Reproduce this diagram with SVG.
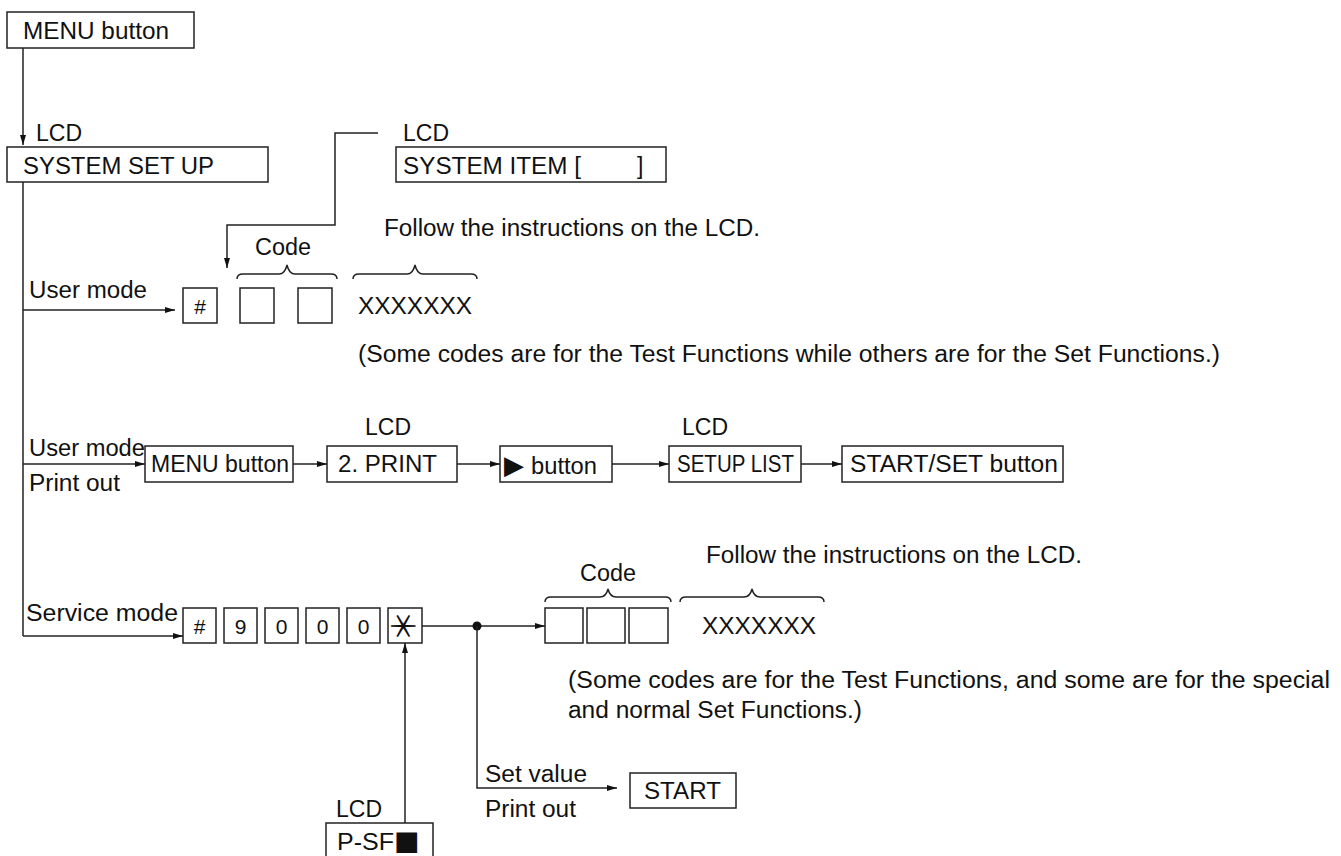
<svg xmlns="http://www.w3.org/2000/svg" width="1341" height="856" viewBox="0 0 1341 856">
<style>
text{font-family:"Liberation Sans",Arial,sans-serif;font-size:23px;fill:#111}
.box{fill:#fff;stroke:#222;stroke-width:1.5}
.ln{fill:none;stroke:#222;stroke-width:1.5}
.k{font-size:21px;text-anchor:middle;dominant-baseline:central}
</style>
<defs>
<marker id="arr" viewBox="0 0 10 6" refX="10" refY="3" markerWidth="10" markerHeight="6" orient="auto" markerUnits="userSpaceOnUse"><path d="M0,0 L10,3 L0,6 z" fill="#111"/></marker>
</defs>
<rect width="1341" height="856" fill="#fff"/>

<g id="connectors">
<path class="ln" d="M23,48 V145" marker-end="url(#arr)"/>
<path class="ln" d="M23,182 V636"/>
<path class="ln" d="M378,133 H335 V225 H227 V268" marker-end="url(#arr)"/>
<path class="ln" d="M23,310 H175" marker-end="url(#arr)"/>
<path class="ln" d="M23,464 H145" marker-end="url(#arr)"/>
<path class="ln" d="M293,464 H327" marker-end="url(#arr)"/>
<path class="ln" d="M457,464 H500" marker-end="url(#arr)"/>
<path class="ln" d="M612,464 H669" marker-end="url(#arr)"/>
<path class="ln" d="M801,464 H842" marker-end="url(#arr)"/>
<path class="ln" d="M23,636 H183" marker-end="url(#arr)"/>
<path class="ln" d="M422,626 H545" marker-end="url(#arr)"/>
<circle cx="477" cy="626" r="4.5" fill="#111"/>
<path class="ln" d="M477,626 V788 H617" marker-end="url(#arr)"/>
<path class="ln" d="M405,823 V643" marker-end="url(#arr)"/>
<path class="ln" d="M237,279 Q237,274 243,274 L279,274 Q285,274 287,265 Q289,274 295,274 L331,274 Q337,274 337,279"/>
<path class="ln" d="M353,279 Q353,274 359,274 L407,274 Q413,274 415,265 Q417,274 423,274 L471,274 Q477,274 477,279"/>
<path class="ln" d="M545,602 Q545,597 551,597 L600,597 Q606,597 608,589 Q610,597 616,597 L665,597 Q671,597 671,602"/>
<path class="ln" d="M680,602 Q680,597 686,597 L744,597 Q750,597 752,589 Q754,597 760,597 L818,597 Q824,597 824,602"/>
</g>

<g id="menu-button">
<rect class="box" x="7" y="12" width="187" height="36"/>
<text x="23" y="39" textLength="146" lengthAdjust="spacingAndGlyphs">MENU button</text>
</g>
<g id="lcd-label-1"><text x="36" y="141" textLength="46" lengthAdjust="spacingAndGlyphs">LCD</text></g>
<g id="system-set-up">
<rect class="box" x="7" y="147" width="261" height="35"/>
<text x="23" y="174" textLength="191" lengthAdjust="spacingAndGlyphs">SYSTEM SET UP</text>
</g>
<g id="lcd-label-2"><text x="403" y="141" textLength="46" lengthAdjust="spacingAndGlyphs">LCD</text></g>
<g id="system-item">
<rect class="box" x="396" y="147" width="270" height="35"/>
<text x="403" y="174"><tspan textLength="178" lengthAdjust="spacingAndGlyphs">SYSTEM ITEM [</tspan><tspan x="637">]</tspan></text>
</g>
<g id="follow-1"><text x="384" y="236" textLength="376" lengthAdjust="spacingAndGlyphs">Follow the instructions on the LCD.</text></g>
<g id="code-1"><text x="255" y="255" textLength="56" lengthAdjust="spacingAndGlyphs">Code</text></g>
<g id="user-mode-1"><text x="29" y="298" textLength="118" lengthAdjust="spacingAndGlyphs">User mode</text></g>
<g id="row1-keys">
<rect class="box" x="183" y="288" width="34" height="35"/>
<text class="k" x="200" y="306">#</text>
<rect class="box" x="240" y="288" width="34" height="35"/>
<rect class="box" x="298" y="288" width="34" height="35"/>
</g>
<g id="xxx-1"><text x="358" y="314" textLength="114" lengthAdjust="spacingAndGlyphs">XXXXXXX</text></g>
<g id="note-1"><text x="358" y="362" textLength="862" lengthAdjust="spacingAndGlyphs">(Some codes are for the Test Functions while others are for the Set Functions.)</text></g>

<g id="lcd-label-3"><text x="365" y="435" textLength="46" lengthAdjust="spacingAndGlyphs">LCD</text></g>
<g id="lcd-label-4"><text x="682" y="435" textLength="46" lengthAdjust="spacingAndGlyphs">LCD</text></g>
<g id="user-mode-2"><text x="29" y="456" textLength="116" lengthAdjust="spacingAndGlyphs">User mode</text><text x="29" y="491" textLength="91" lengthAdjust="spacingAndGlyphs">Print out</text></g>
<g id="menu-button-2">
<rect class="box" x="145" y="446" width="148" height="36"/>
<text x="151" y="472" textLength="138" lengthAdjust="spacingAndGlyphs">MENU button</text>
</g>
<g id="print">
<rect class="box" x="327" y="446" width="130" height="36"/>
<text x="338" y="472" textLength="99" lengthAdjust="spacingAndGlyphs">2. PRINT</text>
</g>
<g id="play-button">
<rect class="box" x="500" y="446" width="112" height="36"/>
<text x="504" y="474"><tspan style="font-family:'DejaVu Sans',sans-serif;font-size:26px">▶</tspan><tspan x="531" textLength="66" lengthAdjust="spacingAndGlyphs">button</tspan></text>
</g>
<g id="setup-list">
<rect class="box" x="669" y="446" width="132" height="36"/>
<text x="677" y="472" textLength="117" lengthAdjust="spacingAndGlyphs">SETUP LIST</text>
</g>
<g id="start-set-button">
<rect class="box" x="842" y="446" width="221" height="36"/>
<text x="850" y="472" textLength="208" lengthAdjust="spacingAndGlyphs">START/SET button</text>
</g>

<g id="follow-2"><text x="706" y="563" textLength="376" lengthAdjust="spacingAndGlyphs">Follow the instructions on the LCD.</text></g>
<g id="code-2"><text x="580" y="581" textLength="56" lengthAdjust="spacingAndGlyphs">Code</text></g>
<g id="service-mode"><text x="26" y="621" textLength="152" lengthAdjust="spacingAndGlyphs">Service mode</text></g>
<g id="service-keys">
<rect class="box" x="183" y="608" width="33" height="35"/><text class="k" x="199.5" y="626">#</text>
<rect class="box" x="224" y="608" width="33" height="35"/><text class="k" x="240.5" y="626">9</text>
<rect class="box" x="265" y="608" width="33" height="35"/><text class="k" x="281.5" y="626">0</text>
<rect class="box" x="306" y="608" width="33" height="35"/><text class="k" x="322.5" y="626">0</text>
<rect class="box" x="347" y="608" width="33" height="35"/><text class="k" x="363.5" y="626">0</text>
<rect class="box" x="388" y="608" width="34" height="35"/><text class="k" x="405" y="626" transform="rotate(90 405 626)" style="font-family:'Noto Sans CJK JP',sans-serif;font-size:32px">＊</text>
</g>
<g id="code-keys">
<rect class="box" x="545" y="608" width="38" height="35"/>
<rect class="box" x="587" y="608" width="38" height="35"/>
<rect class="box" x="629" y="608" width="39" height="35"/>
</g>
<g id="xxx-2"><text x="702" y="634" textLength="114" lengthAdjust="spacingAndGlyphs">XXXXXXX</text></g>
<g id="note-2">
<text x="568" y="688" textLength="762" lengthAdjust="spacingAndGlyphs">(Some codes are for the Test Functions, and some are for the special</text>
<text x="568" y="718" textLength="294" lengthAdjust="spacingAndGlyphs">and normal Set Functions.)</text>
</g>
<g id="set-value"><text x="485" y="782" textLength="102" lengthAdjust="spacingAndGlyphs">Set value</text><text x="485" y="817" textLength="91" lengthAdjust="spacingAndGlyphs">Print out</text></g>
<g id="start">
<rect class="box" x="630" y="773" width="106" height="35"/>
<text x="644" y="799" textLength="77" lengthAdjust="spacingAndGlyphs">START</text>
</g>
<g id="lcd-label-5"><text x="336" y="817" textLength="46" lengthAdjust="spacingAndGlyphs">LCD</text></g>
<g id="p-sf">
<rect class="box" x="326" y="823" width="107" height="40"/>
<text x="337" y="850"><tspan textLength="57" lengthAdjust="spacingAndGlyphs">P-SF</tspan><tspan style="font-family:'DejaVu Sans',sans-serif;font-size:27px">■</tspan></text>
</g>
</svg>
